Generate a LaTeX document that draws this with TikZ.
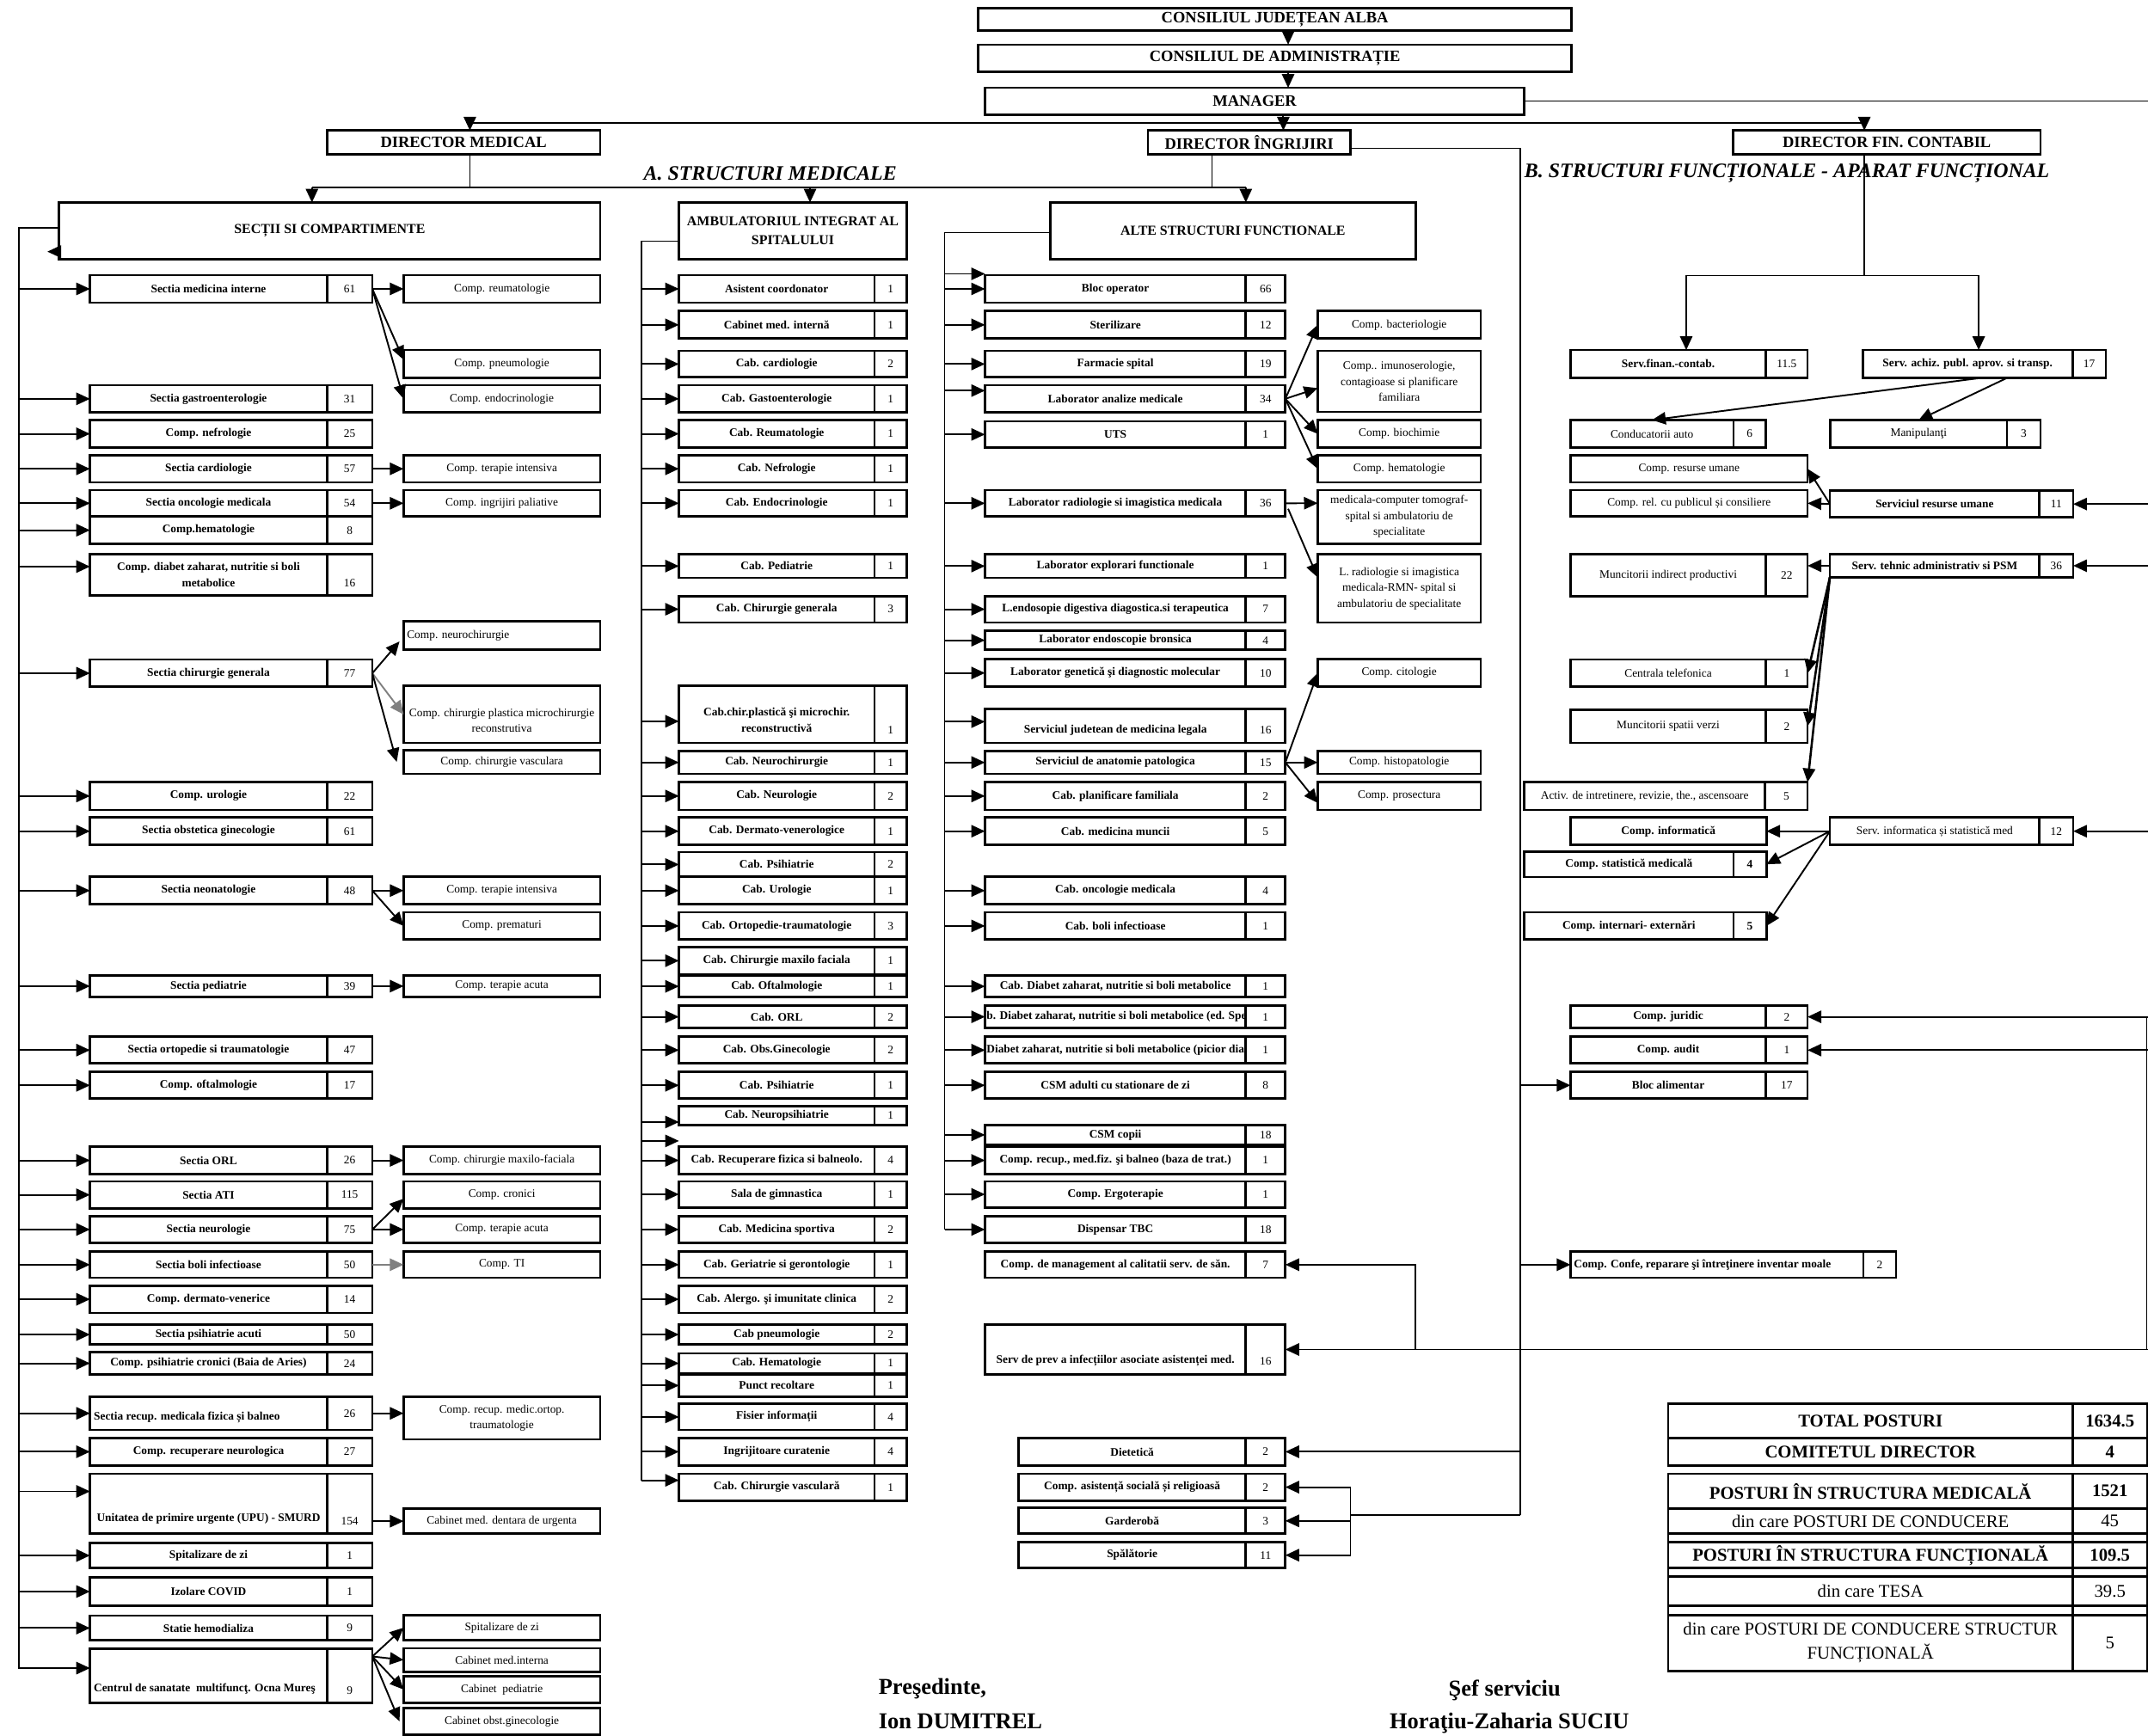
\documentclass[tikz,border=0pt]{standalone}
\usepackage{fontspec}
\setmainfont{Liberation Serif}
\usetikzlibrary{arrows.meta}
\newcommand\fs{\fontsize{8.4}{11.6}\selectfont}
\tikzset{
 cell/.style={draw,line width=1.7pt,inner sep=0pt,outer sep=0pt,font=\fs,align=center},
 bfc/.style={font=\fs\bfseries},
 rgc/.style={font=\fs},
 hdr/.style={font=\fontsize{11.6}{13}\selectfont\bfseries},
 secf/.style={font=\fontsize{10}{13.9}\selectfont\bfseries},
 tbb/.style={font=\fontsize{13}{17.6}\selectfont\bfseries},
 tbr/.style={font=\fontsize{13}{17.6}\selectfont},
 txt/.style={inner sep=0pt,font=\fs,align=center},
 arr/.style={line width=1.2pt,-{Triangle[length=10pt,width=9pt]}},
 ln/.style={line width=0.9pt},
 busl/.style={line width=1.3pt},
 sig/.style={inner sep=0pt,font=\fontsize{16.6}{20}\selectfont\bfseries},
 lab/.style={inner sep=0pt,anchor=west,font=\fontsize{15}{18}\selectfont\bfseries\itshape},
}
\newcommand\simplebox[7][rgc]{\node[cell,#1,minimum width={(#5)-(#3)},minimum height={(#6)-(#4)}] (#2) at ({((#3)+(#5))/2},{((#4)+(#6))/2}) {#7};}
\newcommand\rowbox[9][bfc]{\node[cell,#1,minimum width={(#5)-(#3)},minimum height={(#7)-(#4)}] (#2) at ({((#3)+(#5))/2},{((#4)+(#7))/2}) {#8};
 \node[cell,minimum width={(#6)-(#5)},minimum height={(#7)-(#4)}] (#2n) at ({((#5)+(#6))/2},{((#4)+(#7))/2}) {#9};}
\newcommand\cola[5]{\rowbox{#1}{65.7}{#2}{238.7}{271.8}{#3}{#4}{#5}}
\newcommand\colb[5]{\rowbox{#1}{495.6}{#2}{638.3}{661.9}{#3}{#4}{#5}}
\newcommand\colc[5]{\rowbox{#1}{719}{#2}{909.4}{938.3}{#3}{#4}{#5}}
\newcommand\suba[4]{\simplebox{#1}{294.6}{#2}{438.1}{#3}{#4}}
\newcommand\subc[4]{\simplebox{#1}{961.9}{#2}{1080.9}{#3}{#4}}
\newcommand\busarr[3][0pt]{\draw[arr] ([yshift=#1]#3.west -| #2) -- ([yshift=#1]#3.west);}
\begin{document}
\begin{tikzpicture}[x=1pt,y=-1pt]
\useasboundingbox (0,0) rectangle (1568,1267);
\fill[white] (0,0) rectangle (1568,1267);

% ===== top hierarchy =====
\simplebox[hdr]{cja}{714.1}{6.1}{1147.2}{22.1}{CONSILIUL JUDEȚEAN ALBA}
\simplebox[hdr]{cda}{714.1}{32.6}{1147.2}{52.5}{CONSILIUL DE ADMINISTRAȚIE}
\simplebox[hdr]{mgr}{719}{64.1}{1112.7}{83.7}{MANAGER}
\simplebox[hdr]{dmed}{238.7}{95.3}{438.1}{112.7}{DIRECTOR MEDICAL}
\simplebox[hdr]{ding}{838}{95.3}{985.8}{112.7}{DIRECTOR ÎNGRIJIRI}
\simplebox[hdr]{dfin}{1265.1}{95.3}{1489.5}{112.7}{DIRECTOR FIN. CONTABIL}

\node[lab] (labA) at (469.7,126.5) {A. STRUCTURI MEDICALE};
\node[lab] (labB) at (1112.7,126.5) {B. STRUCTURI FUNCȚIONALE - APARAT FUNCȚIONAL};

\simplebox[secf]{secc}{43.2}{147.8}{438.1}{189.2}{SECȚII SI COMPARTIMENTE}
\simplebox[secf]{amb}{495.6}{147.8}{661.9}{189.2}{AMBULATORIUL INTEGRAT AL\\SPITALULUI}
\simplebox[secf]{alte}{766.6}{147.8}{1033.4}{189.2}{ALTE STRUCTURI FUNCTIONALE}

% ===== column 1 =====
\cola{c1r1}{200.8}{221}{Sectia medicina interne}{61}
\cola{c1r2}{281.2}{301.1}{Sectia gastroenterologie}{31}
\cola{c1r3}{306.6}{326.8}{Comp. nefrologie}{25}
\cola{c1r4}{332.3}{352.2}{Sectia cardiologie}{57}
\cola{c1r5}{357.7}{377.1}{Sectia oncologie medicala}{54}
\cola{c1r6}{377.1}{397}{Comp.hematologie}{8}
\cola{c1r7}{404.7}{434.5}{Comp. diabet zaharat, nutritie si boli\\metabolice}{}
\node[txt] (c1r7m) at (255.25,425.4) {16};
\cola{c1r8}{481.5}{501.4}{Sectia chirurgie generala}{77}
\cola{c1r9}{571}{591.2}{Comp. urologie}{22}
\cola{c1r10}{596.7}{616.9}{Sectia obstetica ginecologie}{61}
\cola{c1r11}{640.1}{660.2}{Sectia neonatologie}{48}
\cola{c1r12}{711.9}{727.9}{Sectia pediatrie}{39}
\cola{c1r13}{756.9}{776.3}{Sectia ortopedie si traumatologie}{47}
\cola{c1r14}{782.6}{802}{Comp. oftalmologie}{17}
\cola{c1r15}{837}{857.2}{Sectia ORL}{26}
\cola{c1r16}{862.4}{882.1}{Sectia ATI}{115}
\cola{c1r17}{887.9}{907.2}{Sectia neurologie}{75}
\cola{c1r18}{913.8}{932.7}{Sectia boli infectioase}{50}
\cola{c1r19}{938.5}{958.5}{Comp. dermato-venerice}{14}
\cola{c1r20}{967}{981.5}{Sectia psihiatrie acuti}{50}
\cola{c1r21}{987.2}{1003.3}{Comp. psihiatrie cronici (Baia de Aries)}{24}
\cola{c1r22}{1019.6}{1043.9}{}{26}
\node[txt,bfc,anchor=west] (c1r22t) at (68.3,1035) {Sectia recup. medicala fizica și balneo};
\cola{c1r23}{1049.9}{1069.7}{Comp. recuperare neurologica}{27}
\cola{c1r24}{1075.8}{1119.7}{}{}
\node[txt,bfc] (c1r24t) at (152.2,1108.7) {Unitatea de primire urgente (UPU) - SMURD};
\node[txt] (c1r24m) at (255.25,1110.5) {154};
\cola{c1r25}{1126.3}{1144.8}{Spitalizare de zi}{1}
\cola{c1r26}{1151.3}{1172.4}{Izolare COVID}{1}
\cola{c1r27}{1179.5}{1197.5}{Statie hemodializa}{9}
\cola{c1r28}{1203.5}{1243}{}{}
\node[txt,bfc,anchor=west] (c1r28t) at (68.3,1233) {Centrul de sanatate \ multifuncţ. Ocna Mureş};
\node[txt] (c1r28m) at (255.25,1234.3) {9};

\suba{s1}{200.8}{221}{Comp. reumatologie}
\suba{s2}{255.5}{275.7}{Comp. pneumologie}
\suba{s3}{281.2}{301.1}{Comp. endocrinologie}
\suba{s4}{332.3}{352.2}{Comp. terapie intensiva}
\suba{s5}{357.7}{377.1}{Comp. ingrijiri paliative}
\suba{s6}{453.6}{474.3}{}
\node[txt,anchor=west] (s6t) at (296.9,464) {Comp. neurochirurgie};
\suba{s7}{500.8}{542.3}{}
\node[txt] (s7t) at (366.35,526) {Comp. chirurgie plastica microchirurgie\\reconstrutiva};
\suba{s8}{547.5}{564.9}{Comp. chirurgie vasculara}
\suba{s9}{640.1}{660.2}{Comp. terapie intensiva}
\suba{s10}{666}{685.9}{Comp. prematuri}
\suba{s11}{711.9}{727.9}{Comp. terapie acuta}
\suba{s12}{837}{857.2}{Comp. chirurgie maxilo-faciala}
\suba{s13}{862.4}{882.1}{Comp. cronici}
\suba{s14}{887.9}{907.2}{Comp. terapie acuta}
\suba{s15}{913.8}{932.7}{Comp. TI}
\suba{s16}{1019.6}{1050.7}{Comp. recup. medic.ortop.\\traumatologie}
\suba{s17}{1101.3}{1119.7}{Cabinet med. dentara de urgenta}
\suba{s18}{1179}{1197.5}{Spitalizare de zi}
\suba{s19}{1203.2}{1220.4}{Cabinet med.interna}
\suba{s20}{1223.8}{1243}{Cabinet \ pediatrie}
\suba{s21}{1246.7}{1266.5}{Cabinet obst.ginecologie}

% ===== column 2 =====
\colb{c2r1}{200.8}{221}{Asistent coordonator}{1}
\colb{c2r2}{227.1}{247.2}{Cabinet med. internă}{1}
\colb{c2r3}{256.1}{275.4}{Cab. cardiologie}{2}
\colb{c2r4}{281.2}{301.1}{Cab. Gastoenterologie}{1}
\colb{c2r5}{306.6}{326.8}{Cab. Reumatologie}{1}
\colb{c2r6}{332.3}{352.2}{Cab. Nefrologie}{1}
\colb{c2r7}{357.7}{377.1}{Cab. Endocrinologie}{1}
\colb{c2r8}{404.7}{421.8}{Cab. Pediatrie}{1}
\colb{c2r9}{435.1}{454.4}{Cab. Chirurgie generala}{3}
\colb{c2r10}{500.8}{542.3}{}{}
\node[txt,bfc] (c2r10t) at (566.95,525.7) {Cab.chir.plastică şi microchir.\\reconstructivă};
\node[txt] (c2r10m) at (650.1,533.2) {1};
\colb{c2r11}{548.3}{564.9}{Cab. Neurochirurgie}{1}
\colb{c2r12}{571}{591.2}{Cab. Neurologie}{2}
\colb{c2r13}{596.7}{616.9}{Cab. Dermato-venerologice}{1}
\colb{c2r14}{622.1}{640.1}{Cab. Psihiatrie}{2}
\colb{c2r15}{640.1}{660.2}{Cab. Urologie}{1}
\colb{c2r16}{666}{685.9}{Cab. Ortopedie-traumatologie}{3}
\colb{c2r17}{691.4}{711.3}{Cab. Chirurgie maxilo faciala}{1}
\colb{c2r18}{712.2}{727.9}{Cab. Oftalmologie}{1}
\colb{c2r19}{734}{750.6}{Cab. ORL}{2}
\colb{c2r20}{756.9}{776.3}{Cab. Obs.Ginecologie}{2}
\colb{c2r21}{782.6}{802}{Cab. Psihiatrie}{1}
\colb{c2r22}{807.5}{821.3}{Cab. Neuropsihiatrie}{1}
\colb{c2r23}{837}{857.2}{Cab. Recuperare fizica si balneolo.}{4}
\colb{c2r24}{862.4}{881.4}{Sala de gimnastica}{1}
\colb{c2r25}{887.9}{907.2}{Cab. Medicina sportiva}{2}
\colb{c2r26}{913.8}{932.7}{Cab. Geriatrie si gerontologie}{1}
\colb{c2r27}{938.5}{958.5}{Cab. Alergo. şi imunitate clinica}{2}
\colb{c2r28}{967}{981.5}{Cab pneumologie}{2}
\colb{c2r29}{988}{1002.5}{Cab. Hematologie}{1}
\colb{c2r30}{1003.3}{1019.6}{Punct recoltare}{1}
\colb{c2r31}{1024.9}{1043.9}{Fisier informații}{4}
\colb{c2r32}{1049.9}{1069.7}{Ingrijitoare curatenie}{4}
\colb{c2r33}{1075.8}{1095.5}{Cab. Chirurgie vasculară}{1}

% ===== column 3 =====
\colc{c3r1}{200.8}{221}{Bloc operator}{66}
\colc{c3r2}{227.1}{247.2}{Sterilizare}{12}
\colc{c3r3}{256.1}{275.4}{Farmacie spital}{19}
\colc{c3r4}{281.2}{301.1}{Laborator analize medicale}{34}
\colc{c3r5}{307.5}{326.8}{UTS}{1}
\colc{c3r6}{357.7}{377.1}{Laborator radiologie si imagistica medicala}{36}
\colc{c3r7}{404.7}{421.8}{Laborator explorari functionale}{1}
\colc{c3r8}{435.1}{454.4}{L.endosopie digestiva diagostica.si terapeutica}{7}
\colc{c3r9}{460.5}{474.3}{Laborator endoscopie bronsica}{4}
\colc{c3r10}{481.2}{501.4}{Laborator genetică şi diagnostic molecular}{10}
\colc{c3r11}{517.4}{542.3}{}{}
\node[txt,bfc] (c3r11t) at (814.2,533.2) {Serviciul judetean de medicina legala};
\node[txt] (c3r11m) at (923.85,533.2) {16};
\colc{c3r12}{548.3}{564.9}{Serviciul de anatomie patologica}{15}
\colc{c3r13}{571}{591.2}{Cab. planificare familiala}{2}
\colc{c3r14}{596.7}{616.9}{Cab. medicina muncii}{5}
\colc{c3r15}{640.1}{660.2}{Cab. oncologie medicala}{4}
\colc{c3r16}{666}{685.9}{Cab. boli infectioase}{1}
\colc{c3r17}{712.2}{727.9}{Cab. Diabet zaharat, nutritie si boli metabolice}{1}
\colc{c3r18}{734}{750.6}{}{1}
\colc{c3r19}{756.9}{776.3}{}{1}
\begin{scope}
\clip (719,734) rectangle (909.4,750.6);
\node[txt,bfc,anchor=west] (c3r18t) at (720,742.3) {b. Diabet zaharat, nutritie si boli metabolice (ed. Spe};
\end{scope}
\begin{scope}
\clip (719,756.9) rectangle (909.4,776.3);
\node[txt,bfc,anchor=west] (c3r19t) at (720,766.6) {Diabet zaharat, nutritie si boli metabolice (picior dia};
\end{scope}
\colc{c3r20}{782.6}{802}{CSM adulti cu stationare de zi}{8}
\colc{c3r21}{821.3}{835.7}{CSM copii}{18}
\colc{c3r22}{837}{857.2}{Comp. recup., med.fiz. şi balneo (baza de trat.)}{1}
\colc{c3r23}{862.4}{881.4}{Comp. Ergoterapie}{1}
\colc{c3r24}{887.9}{907.2}{Dispensar TBC}{18}
\colc{c3r25}{913.8}{932.7}{Comp. de management al calitatii serv. de săn.}{7}
\colc{c3r26}{967}{1003.3}{}{}
\node[txt,bfc] (c3r26t) at (814.2,993.3) {Serv de prev a infecțiilor asociate asistenței med.};
\node[txt] (c3r26m) at (923.85,994) {16};

\rowbox{d1}{743.5}{1049.9}{909.4}{938.3}{1069.7}{Dietetică}{2}
\rowbox{d2}{743.5}{1075.8}{909.4}{938.3}{1095.5}{Comp. asistență socială și religioasă}{2}
\rowbox{d3}{743.5}{1100.8}{909.4}{938.3}{1119.7}{Garderobă}{3}
\rowbox{d4}{743.5}{1125.8}{909.4}{938.3}{1144.8}{Spălătorie}{11}

\subc{t1}{227.1}{247.2}{Comp. bacteriologie}
\subc{t2}{256.1}{300.6}{Comp.. imunoserologie,\\contagioase si planificare\\familiara}
\subc{t3}{306.6}{326.8}{Comp. biochimie}
\subc{t4}{332.3}{352.2}{Comp. hematologie}
\subc{t5}{357.7}{397}{medicala-computer tomograf-\\spital si ambulatoriu de\\specialitate}
\subc{t6}{404.7}{454.4}{L. radiologie si imagistica\\medicala-RMN- spital si\\ambulatoriu de specialitate}
\subc{t7}{481.2}{501.4}{Comp. citologie}
\subc{t8}{548.3}{564.9}{Comp. histopatologie}
\subc{t9}{571}{591.2}{Comp. prosectura}

% ===== column 4 =====
\rowbox{f1}{1146.4}{255.5}{1289.1}{1319.5}{275.7}{Serv.finan.-contab.}{11.5}
\rowbox{f2}{1359.7}{255.5}{1512.9}{1537.3}{275.7}{Serv. achiz. publ. aprov. si transp.}{17}
\rowbox[rgc]{f3}{1146.4}{306.6}{1265.4}{1289.1}{326.8}{Conducatorii auto}{6}
\rowbox[rgc]{f4}{1336.2}{306.6}{1465}{1489.5}{326.8}{Manipulanţi}{3}
\simplebox{f5}{1146.4}{332.3}{1319.5}{352.2}{Comp. resurse umane}
\simplebox{f6}{1146.4}{357.7}{1319.5}{377.1}{Comp. rel. cu publicul și consiliere}
\rowbox{f7}{1335.8}{358.3}{1488.7}{1513.4}{377.6}{Serviciul resurse umane}{11}
\rowbox[rgc]{f8}{1146.4}{404.7}{1289.1}{1319.5}{435.1}{Muncitorii indirect productivi}{22}
\rowbox{f9}{1335.8}{404.7}{1488.7}{1513.4}{421.3}{Serv. tehnic administrativ si PSM}{36}
\rowbox[rgc]{f10}{1146.4}{481.5}{1289.1}{1319.5}{501.4}{Centrala telefonica}{1}
\rowbox[rgc]{f11}{1146.4}{518}{1289.1}{1319.5}{542.3}{Muncitorii spatii verzi}{2}
\rowbox[rgc]{f12}{1112.7}{571}{1288.5}{1319.5}{591.2}{Activ. de intretinere, revizie, the., ascensoare}{5}
\simplebox[bfc]{f13}{1146.4}{596.7}{1289.4}{616.9}{Comp. informatică}
\rowbox{f14}{1112.7}{621.6}{1265.4}{1289.4}{640.3}{Comp. statistică medicală}{\textbf{4}}
\rowbox{f15}{1112.7}{666}{1265.4}{1289.4}{685.9}{Comp. internari- externări}{\textbf{5}}
\rowbox[rgc]{f16}{1335.8}{596.7}{1488.7}{1513.4}{616.9}{Serv. informatica și statistică med}{12}
\rowbox{f17}{1146.4}{734}{1289.1}{1319.5}{750.6}{Comp. juridic}{2}
\rowbox{f18}{1146.4}{756.9}{1289.1}{1319.5}{776.3}{Comp. audit}{1}
\rowbox{f19}{1146.4}{782.6}{1289.1}{1319.5}{802}{Bloc alimentar}{17}
\rowbox{f20}{1146.4}{913.8}{1360.2}{1384.1}{932.7}{}{2}
\node[txt,bfc,anchor=west] (f20t) at (1148.7,923.3) {Comp. Confe, reparare şi întreţinere inventar moale};

% ===== totals table =====
\simplebox[tbb]{T1}{1217.8}{1024.9}{1512.9}{1049.9}{TOTAL POSTURI}
\simplebox[tbb]{T1n}{1512.9}{1024.9}{1567.5}{1049.9}{1634.5}
\simplebox[tbb]{T2}{1217.8}{1049.9}{1512.9}{1069.7}{COMITETUL DIRECTOR}
\simplebox[tbb]{T2n}{1512.9}{1049.9}{1567.5}{1069.7}{4}
\simplebox[tbb]{T3}{1217.8}{1075.8}{1512.9}{1101.3}{POSTURI ÎN STRUCTURA MEDICALĂ}
\simplebox[tbb]{T3n}{1512.9}{1075.8}{1567.5}{1101.3}{1521}
\simplebox[tbr]{T4}{1217.8}{1101.3}{1512.9}{1119.7}{din care POSTURI DE CONDUCERE}
\simplebox[tbr]{T4n}{1512.9}{1101.3}{1567.5}{1119.7}{45}
\simplebox[tbr]{T4s}{1217.8}{1119.7}{1512.9}{1125.8}{}
\simplebox[tbr]{T4sn}{1512.9}{1119.7}{1567.5}{1125.8}{}
\simplebox[tbb]{T5}{1217.8}{1125.8}{1512.9}{1144.8}{POSTURI ÎN STRUCTURA FUNCȚIONALĂ}
\simplebox[tbb]{T5n}{1512.9}{1125.8}{1567.5}{1144.8}{109.5}
\simplebox[tbr]{T5s}{1217.8}{1144.8}{1512.9}{1150.8}{}
\simplebox[tbr]{T5sn}{1512.9}{1144.8}{1567.5}{1150.8}{}
\simplebox[tbr]{T6}{1217.8}{1150.8}{1512.9}{1172.4}{din care TESA}
\simplebox[tbr]{T6n}{1512.9}{1150.8}{1567.5}{1172.4}{39.5}
\simplebox[tbr]{T6s}{1217.8}{1172.4}{1512.9}{1179}{}
\simplebox[tbr]{T6sn}{1512.9}{1172.4}{1567.5}{1179}{}
\simplebox[tbr]{T7}{1217.8}{1179}{1512.9}{1219.8}{din care POSTURI DE CONDUCERE STRUCTUR\\FUNCȚIONALĂ}
\simplebox[tbr]{T7n}{1512.9}{1179}{1567.5}{1219.8}{5}

% ===== signatures =====
\node[sig,anchor=west] (pres) at (641.2,1233) {Preşedinte,};
\node[sig,anchor=west] (presn) at (641.2,1256.7) {Ion DUMITREL};
\node[sig] (sef) at (1098.3,1234.3) {Şef serviciu};
\node[sig] (sefn) at (1101.8,1258) {Horaţiu-Zaharia SUCIU};

% ===== connectors: top =====
\coordinate (xa) at (940.3,0);
\coordinate (xb) at (936.8,0);
\draw[arr] (cja.south -| xa) -- (cda.north -| xa);
\draw[arr] (cda.south -| xa) -- (mgr.north -| xa);
\draw[arr] (mgr.south -| xb) -- (ding.north -| xb);
\coordinate (h1) at (343,89.8);
\coordinate (h2) at (1360.9,89.8);
\draw[ln] (h1) -- (h2);
\draw[arr] (h1) -- (dmed.north -| h1);
\draw[arr] (h2) -- (dfin.north -| h2);
\coordinate (eR) at (1568,0);
\coordinate (eV) at (1567,0);
\draw[ln] (mgr.east) -- (mgr.east -| eR);

\coordinate (m1) at (227.7,136.7);
\coordinate (m2) at (909.4,136.7);
\coordinate (m3) at (591.3,136.7);
\coordinate (dv) at (884.9,136.7);
\draw[ln] (dmed.south -| h1) -- (h1 |- m1);
\draw[ln] (m1) -- (m2);
\draw[ln] (ding.south -| dv) -- (dv);
\draw[arr] (m1) -- (secc.north -| m1);
\draw[arr] (m3) -- (amb.north -| m3);
\draw[arr] (m2) -- (alte.north -| m2);

% director ingrijiri branch
\coordinate (dr1) at (1109.8,108.3);
\coordinate (dr2) at (1109.8,1106);
\draw[ln] (ding.east |- dr1) -- (dr1) -- (dr2);
\draw[arr] (f19.west -| dr1) -- (f19.west);
\draw[arr] (f20.west -| dr1) -- (f20.west);
\draw[arr] (d1n.east -| dr1) -- (d1n.east);
\coordinate (sbx) at (985.8,1106);
\draw[ln] (dr2) -- (sbx);
\draw[ln] (d2n.east -| sbx) -- (d4n.east -| sbx);
\draw[arr] (d2n.east -| sbx) -- (d2n.east);
\draw[arr] (d3n.east -| sbx) -- (d3n.east);
\draw[arr] (d4n.east -| sbx) -- (d4n.east);

% right side feeds
\coordinate (mg) at (1033.4,985.4);
\draw[arr] (mg) -- (mg |- c3r25n.east) -- (c3r25n.east);
\draw[arr] (c3r26n.east -| eR) -- (c3r26n.east);
\draw[ln] (f17n.east -| eV) -- (c3r26n.east -| eV);
\draw[arr] (f7n.east -| eR) -- (f7n.east);
\draw[arr] (f9n.east -| eR) -- (f9n.east);
\draw[arr] (f16n.east -| eR) -- (f16n.east);
\draw[arr] (f17n.east -| eR) -- (f17n.east);
\draw[arr] (f18n.east -| eR) -- (f18n.east);

% director fin. contabil
\coordinate (fv) at (1360.9,201.1);
\coordinate (fl) at (1230.9,201.1);
\coordinate (fr) at (1444.4,201.1);
\draw[ln] (dfin.south -| fv) -- (fv);
\draw[ln] (fl) -- (fr);
\draw[arr] (fl) -- (f1.north -| fl);
\draw[arr] (fr) -- (f2.north -| fr);
\draw[arr] ([xshift=11.3pt]f2.south) -- (f3.north);
\draw[arr] ([xshift=29.2pt]f2.south) -- (f4.north);
\draw[arr] (f7.west) -- (f5.east);
\draw[arr] (f7.west) -- (f6.east);
\draw[arr] (f9.west) -- (f9.west -| f8n.east);
\draw[arr,line width=1.6pt] (f9.south west) -- (f10n.east);
\draw[arr,line width=1.6pt] (f9.south west) -- (f11n.east);
\draw[arr,line width=1.6pt] (f9.south west) -- (f12n.north east);
\draw[arr] (f16.west) -- (f13.east);
\draw[arr] (f16.west) -- (f14n.east);
\draw[arr] (f16.west) -- (f15n.east);

% ===== column 1 connectors =====
\coordinate (b1t) at (13.8,166.3);
\coordinate (b1b) at (13.8,1218.5);
\draw[busl] (secc.west |- b1t) -- (b1t) -- (b1b);
\coordinate (sectip) at (34.6,183.7);
\draw[arr] (secc.west |- sectip) -- (sectip);
\busarr{b1t}{c1r1}\busarr{b1t}{c1r2}\busarr{b1t}{c1r3}\busarr{b1t}{c1r4}
\busarr{b1t}{c1r5}\busarr{b1t}{c1r6}\busarr[6pt]{b1t}{c1r7}\busarr{b1t}{c1r8}
\busarr{b1t}{c1r9}\busarr{b1t}{c1r10}\busarr{b1t}{c1r11}\busarr{b1t}{c1r12}
\busarr{b1t}{c1r13}\busarr{b1t}{c1r14}\busarr{b1t}{c1r15}\busarr{b1t}{c1r16}
\busarr{b1t}{c1r17}\busarr{b1t}{c1r18}\busarr{b1t}{c1r19}\busarr{b1t}{c1r20}
\busarr{b1t}{c1r21}\busarr{b1t}{c1r22}\busarr{b1t}{c1r23}\busarr[9pt]{b1t}{c1r24}
\busarr{b1t}{c1r25}\busarr{b1t}{c1r26}\busarr{b1t}{c1r27}\busarr[5.5pt]{b1t}{c1r28}

\draw[arr] (c1r1n.east) -- (s1.west);
\draw[arr] (c1r1n.east) -- ([yshift=3pt]s2.west);
\draw[arr] (c1r1n.east) -- (s3.west);
\draw[arr] (c1r4n.east) -- (s4.west);
\draw[arr] (c1r5n.east) -- (s5.west);
\draw[arr] (c1r8n.east) -- ([xshift=-3pt,yshift=6pt]s6.south west);
\draw[arr,gray] (c1r8n.east) -- (s7.west);
\draw[arr] (c1r8n.east) -- ([xshift=-5pt]s8.west);
\draw[arr] (c1r11n.east) -- (s9.west);
\draw[arr] (c1r11n.east) -- (s10.west);
\draw[arr] (c1r12n.east) -- (s11.west);
\draw[arr] (c1r15n.east) -- (s12.west);
\draw[arr] (c1r17n.east) -- ([yshift=7pt]s13.south west);
\draw[arr] (c1r17n.east) -- (s14.west);
\draw[arr,gray] (c1r18n.east) -- (s15.west);
\draw[arr] (c1r22n.east) -- (s16.west |- c1r22n.east);
\draw[arr] (c1r24n.east |- s17.west) -- (s17.west);
\draw[arr] ([yshift=14pt]c1r28n.east) -- (s18.west);
\draw[arr] ([yshift=14pt]c1r28n.east) -- (s19.west);
\draw[arr] ([yshift=14pt]c1r28n.east) -- (s20.west);
\draw[arr] ([yshift=14pt]c1r28n.east) -- ([xshift=-3pt]s21.west);

% ===== column 2 connectors =====
\coordinate (b2t) at (468.2,176);
\coordinate (b2b) at (468.2,1080.7);
\draw[ln] (amb.west |- b2t) -- (b2t) -- (b2b);
\coordinate (b2x) at (495.6,832.9);
\draw[arr] (b2x -| b2t) -- (b2x);
\busarr{b2t}{c2r1}\busarr{b2t}{c2r2}\busarr{b2t}{c2r3}\busarr{b2t}{c2r4}
\busarr{b2t}{c2r5}\busarr{b2t}{c2r6}\busarr{b2t}{c2r7}\busarr{b2t}{c2r8}
\busarr{b2t}{c2r9}\busarr[-5pt]{b2t}{c2r10}\busarr{b2t}{c2r11}\busarr{b2t}{c2r12}
\busarr{b2t}{c2r13}\busarr{b2t}{c2r14}\busarr{b2t}{c2r15}\busarr{b2t}{c2r16}
\busarr{b2t}{c2r17}\busarr{b2t}{c2r18}\busarr{b2t}{c2r19}\busarr{b2t}{c2r20}
\busarr{b2t}{c2r21}\busarr[-4.7pt]{b2t}{c2r22}\busarr{b2t}{c2r23}\busarr{b2t}{c2r24}
\busarr{b2t}{c2r25}\busarr{b2t}{c2r26}\busarr{b2t}{c2r27}\busarr{b2t}{c2r28}
\busarr{b2t}{c2r29}\busarr{b2t}{c2r30}\busarr{b2t}{c2r31}\busarr{b2t}{c2r32}
\busarr[5pt]{b2t}{c2r33}

% ===== column 3 connectors =====
\coordinate (b3t) at (689.6,169.9);
\coordinate (b3b) at (689.6,897.5);
\draw[ln] (alte.west |- b3t) -- (b3t) -- (b3b);
\busarr[11pt]{b3t}{c3r1}
\busarr{b3t}{c3r1}\busarr{b3t}{c3r2}\busarr{b3t}{c3r3}\busarr[6pt]{b3t}{c3r4}
\busarr{b3t}{c3r5}\busarr{b3t}{c3r6}\busarr{b3t}{c3r7}\busarr{b3t}{c3r8}
\busarr{b3t}{c3r9}\busarr{b3t}{c3r10}\busarr[3pt]{b3t}{c3r11}\busarr{b3t}{c3r12}
\busarr{b3t}{c3r13}\busarr{b3t}{c3r14}\busarr{b3t}{c3r15}\busarr{b3t}{c3r16}
\busarr{b3t}{c3r17}\busarr{b3t}{c3r18}\busarr{b3t}{c3r19}\busarr{b3t}{c3r20}
\busarr{b3t}{c3r21}\busarr{b3t}{c3r22}\busarr{b3t}{c3r23}\busarr{b3t}{c3r24}

\draw[arr] (c3r4n.east) -- (t1.west);
\draw[arr] (c3r4n.east) -- ([yshift=-5pt]t2.west);
\draw[arr] (c3r4n.east) -- (t3.west);
\draw[arr] (c3r4n.east) -- (t4.west);
\draw[arr] (c3r6n.east) -- ([yshift=10pt]t5.west);
\draw[arr] ([xshift=2pt,yshift=-4pt]c3r6n.east) -- ([yshift=8pt]t6.west);
\draw[arr] (c3r12n.east) -- (t7.west);
\draw[arr] (c3r12n.east) -- (t8.west);
\draw[arr] (c3r12n.east) -- ([yshift=-5pt]t9.west);
\end{tikzpicture}
\end{document}
